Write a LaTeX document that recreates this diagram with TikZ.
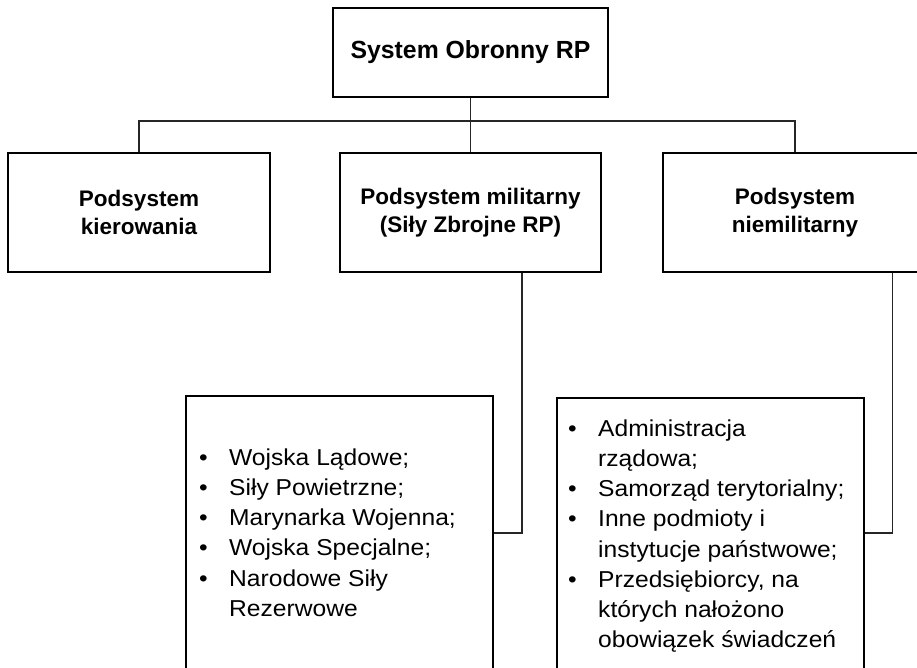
\documentclass[tikz,border=0pt]{standalone}
\usepackage{fontspec}
\setmainfont{Liberation Sans}
\newfontfamily\listfont[FakeStretch=1.07]{Liberation Sans}
\usetikzlibrary{calc}

\begin{document}
\begin{tikzpicture}[x=1pt,y=-1pt,
  box/.style={draw=black, line width=2.2pt, fill=white, inner sep=0pt, align=center,
    minimum width=262pt, minimum height=119pt, font=\fontsize{22.5}{28}\selectfont\bfseries},
  listbox/.style={draw=black, line width=2.2pt, minimum width=307pt, inner sep=0pt},
  listtext/.style={anchor=north west, inner sep=0pt, font=\listfont\fontsize{23}{30.2}\selectfont},
  conn/.style={draw=black!85, line width=1.2pt}]
\useasboundingbox (0,0) rectangle (917,668);
\clip (0,0) rectangle (917,668);

% top and middle row
\node [box, minimum width=275pt, minimum height=89pt, font=\fontsize{24.8}{28}\selectfont\bfseries] (top) at (470.5,52.5) {System Obronny RP};
\node [box] (kier) at (139,212.5) {Podsystem\\kierowania};
\node [box, minimum width=261pt] (mil) at (470.5,212.5) {Podsystem militarny\\(Siły Zbrojne RP)};
\node [box, minimum width=264pt] (niemil) at (795,212.5) {Podsystem\\niemilitarny};

\coordinate (bus) at (470.5,121);
\draw [conn] (kier.north) |- (bus) -| (niemil.north);
\draw [conn] (top.south) -- (mil.north);

% bottom row
\node [listbox, minimum height=274pt] (lmil) at (339.5,533) {};
\node [listbox, minimum height=276pt] (lniemil) at (710.5,536) {};

\draw [conn] ([xshift=51.5pt]mil.south) |- (lmil.east);
\draw [conn] ([xshift=97.5pt]niemil.south) |- ([yshift=3pt]lniemil.east);

\node [listtext] (tmil) at (199,443.9) {\begin{tabular}{@{}p{30pt}@{}l@{}}
\textbullet & Wojska Lądowe;\\
\textbullet & Siły Powietrzne;\\
\textbullet & Marynarka Wojenna;\\
\textbullet & Wojska Specjalne;\\
\textbullet & Narodowe Siły\\
 & Rezerwowe
\end{tabular}};
\node [listtext] (tniemil) at (568,414.9) {\begin{tabular}{@{}p{30pt}@{}l@{}}
\textbullet & Administracja\\
 & rządowa;\\
\textbullet & Samorząd terytorialny;\\
\textbullet & Inne podmioty i\\
 & instytucje państwowe;\\
\textbullet & Przedsiębiorcy, na\\
 & których nałożono\\
 & obowiązek świadczeń
\end{tabular}};

\end{tikzpicture}
\end{document}
